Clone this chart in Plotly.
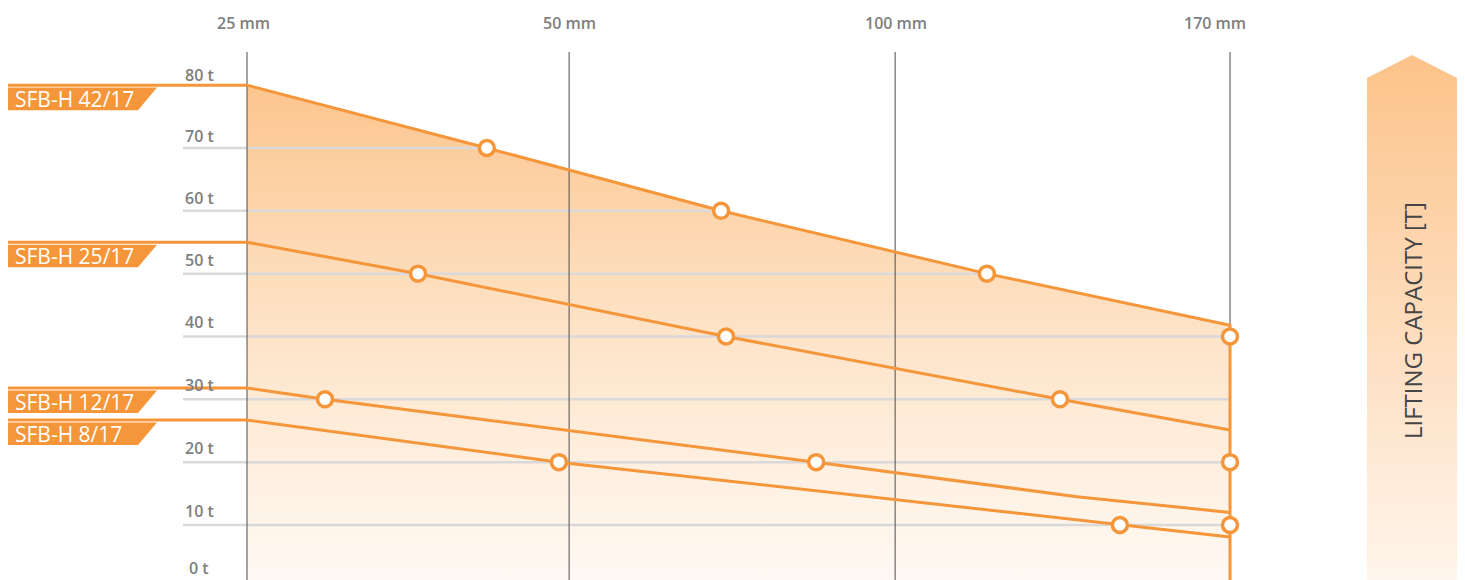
import numpy as np
import plotly.graph_objects as go

# ---------------- data ----------------
x_labels = ['25 mm', '50 mm', '100 mm', '170 mm']
x_pos = [0.0, 0.983, 1.978, 3.0]
y_ticks = [0, 10, 20, 30, 40, 50, 60, 70, 80]

names = ['SFB-H 42/17', 'SFB-H 25/17', 'SFB-H 12/17', 'SFB-H 8/17']
s42_x = [0.0, 0.732, 1.447, 2.258, 3.0]
s42_y = [80, 70, 60, 50, 41.8]
s25_x = [0.0, 0.522, 1.462, 2.481, 3.0]
s25_y = [55.0, 50, 40, 30, 25.1]
s12_x = [0.0, 0.238, 1.737, 2.533, 3.0]
s12_y = [31.8, 30, 20, 14.5, 12.0]
s8_x = [0.0, 0.952, 2.664, 3.0]
s8_y = [26.7, 20, 10, 8.1]
circ42 = [1, 2, 3]
circ25 = [1, 2, 3]
circ12 = [1, 2]
circ8 = [1, 2]
edge_caps = [40, 20, 10]
axis_title = 'LIFTING CAPACITY [T]'

# ---------------- style ----------------
OFF = 8                      # page body margin
W, H = 1465 - OFF, 580 - OFF
TOP = 52 - OFF
ORANGE = '#F5963A'
GRID_H = '#D9D9D9'
GRID_V = '#4D4D4D'
LABEL_C = '#7E7E7E'
FONT = 'Open Sans'
px_per_x = 327.67
X_MIN = -(247 - OFF) / px_per_x
X_MAX = X_MIN + W / px_per_x
px_y = 1 / 6.283
Y_MIN = (587.8 - 580) * px_y
Y_MAX = (587.8 - 52) * px_y
px_x = 1 / px_per_x
TAG_X0 = X_MIN + (8 - OFF) * px_x
TAG_XTR = X_MIN + (157 - OFF) * px_x
TAG_XBR = X_MIN + (138 - OFF) * px_x
GRID_X0 = X_MIN + (183 - OFF) * px_x
YLAB_X = X_MIN + (199 - OFF) * px_x
ylab_lift = [20, 14, 14, 14, 14, 14, 13, 12, 10]   # px above each grid value
label_shift = [-4, 0, 1, -15]

series = [(names[0], s42_x, s42_y, circ42),
          (names[1], s25_x, s25_y, circ25),
          (names[2], s12_x, s12_y, circ12),
          (names[3], s8_x, s8_y, circ8)]

fig = go.Figure()

# gradient area under the top series
fig.add_trace(go.Scatter(
    x=s42_x + [s42_x[-1]], y=s42_y + [0], mode='none', fill='tozeroy',
    fillgradient=dict(type='vertical', start=0, stop=80,
                      colorscale=[[0, '#FFFAF5'], [0.5, '#FEE4C9'], [1, '#FCC58E']]),
    hoverinfo='skip'))

# horizontal grid lines (end where they meet the top series)
gx, gy = [], []
for v in y_ticks[1:-1]:
    x_end = float(np.interp(v, s42_y[::-1], s42_x[::-1]))
    gx += [GRID_X0, x_end, None]
    gy += [v, v, None]
fig.add_trace(go.Scatter(x=gx, y=gy, mode='lines',
                         line=dict(color=GRID_H, width=2.5), hoverinfo='skip'))

# vertical grid lines
vx, vy = [], []
for p in x_pos:
    vx += [p, p, None]
    vy += [Y_MIN - 5, Y_MAX + 5, None]
fig.add_trace(go.Scatter(x=vx, y=vy, mode='lines',
                         line=dict(color=GRID_V, width=1), hoverinfo='skip'))

# series lines (with lead-in to tag)
for i, (nm, sx, sy, circ) in enumerate(series):
    lx = [TAG_X0] + sx
    ly = [sy[0]] + sy
    if i == 0:
        lx = lx + [sx[-1]]
        ly = ly + [0]
    fig.add_trace(go.Scatter(x=lx, y=ly, mode='lines', name=nm,
                             line=dict(color=ORANGE, width=3)))

# circles
mk = dict(size=15, color='white', line=dict(color=ORANGE, width=3.5))
for nm, sx, sy, circ in series:
    fig.add_trace(go.Scatter(
        x=[sx[k] for k in circ], y=[sy[k] for k in circ], mode='markers',
        marker=mk, cliponaxis=False, name=nm))
fig.add_trace(go.Scatter(
    x=[s42_x[-1]] * len(edge_caps), y=edge_caps, mode='markers',
    marker=mk, cliponaxis=False))

# tags
shapes = []
annotations = []
for nm, sx, sy, circ in series:
    top = sy[0] - 2.4 * px_y
    bot = sy[0] - 25 * px_y
    path = (f'M {TAG_X0},{top} L {TAG_XTR},{top} L {TAG_XBR},{bot} '
            f'L {TAG_X0},{bot} Z')
    shapes.append(dict(type='path', path=path, xref='x', yref='y',
                       fillcolor=ORANGE, line=dict(width=0), layer='above'))
    annotations.append(dict(x=TAG_X0, y=(top + bot) / 2, xref='x', yref='y',
                            text=nm, showarrow=False, xanchor='left', yanchor='middle',
                            xshift=5,
                            font=dict(family=FONT, size=21, color='white', weight=500)))

# y labels
for v, lift in zip(y_ticks, ylab_lift):
    annotations.append(dict(x=YLAB_X, y=v + lift * px_y, xref='x', yref='y',
                            text=f'{v} t', showarrow=False, xanchor='center',
                            yanchor='middle', borderpad=0,
                            font=dict(family=FONT, size=16, color=LABEL_C, weight=600)))
# x labels
for p, lab, sh in zip(x_pos, x_labels, label_shift):
    annotations.append(dict(x=p, y=1 - (23 - OFF) / H, xref='x', yref='paper', text=lab,
                            showarrow=False, xanchor='center', yanchor='middle',
                            xshift=sh,
                            font=dict(family=FONT, size=16, color=LABEL_C, weight=600)))

# arrow on the right
sh_y = (580 - 78) / (580 - 55)
fig.add_trace(go.Scatter(
    x=[0, 0, 0.5, 1, 1], y=[0, sh_y, 1, sh_y, 0], mode='none', fill='toself',
    fillgradient=dict(type='vertical', start=0, stop=1,
                      colorscale=[[0, '#FFF5EC'], [1, '#FCC38A']]),
    xaxis='x2', yaxis='y2', hoverinfo='skip'))
annotations.append(dict(x=(1412 - OFF) / W, y=1 - (321 - OFF) / H, xref='paper',
                        yref='paper', text=axis_title, showarrow=False, textangle=-90,
                        xanchor='center', yanchor='middle',
                        font=dict(family=FONT, size=24, color='#454545', weight=500)))

fig.update_layout(
    width=W, height=H, margin=dict(l=0, r=0, t=0, b=0),
    paper_bgcolor='white', plot_bgcolor='white', showlegend=False,
    xaxis=dict(domain=[0, 1], range=[X_MIN, X_MAX], visible=False, fixedrange=True),
    yaxis=dict(domain=[0, (H - TOP) / H], range=[Y_MIN, Y_MAX], visible=False,
               fixedrange=True),
    xaxis2=dict(domain=[(1367 - OFF) / W, (1457 - OFF) / W], range=[0, 1],
                visible=False, anchor='y2'),
    yaxis2=dict(domain=[0, 1 - (55 - OFF) / H], range=[0, 1], visible=False,
                anchor='x2'),
    shapes=shapes, annotations=annotations,
)

fig.write_html('out.html')
